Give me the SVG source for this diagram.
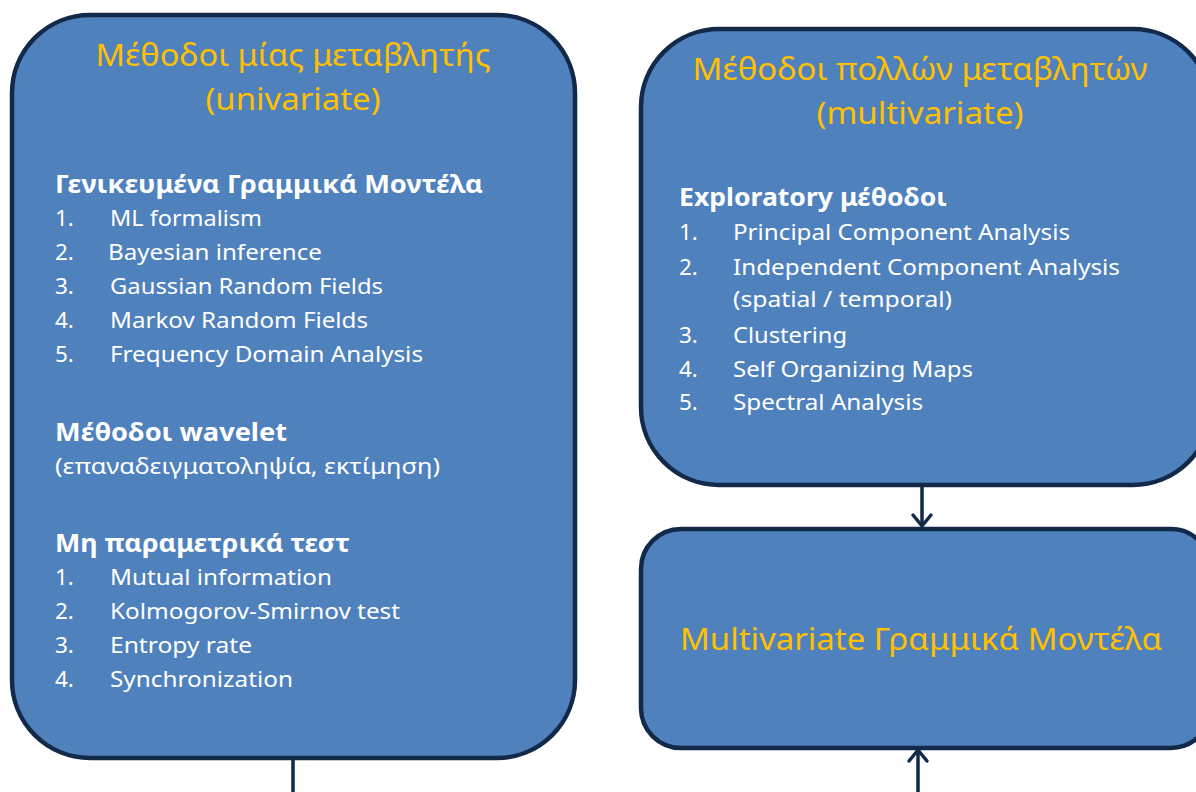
<svg xmlns="http://www.w3.org/2000/svg" width="1196" height="792" viewBox="0 0 1196 792">
<defs>
<style>
.box{fill:#4f81bd;stroke:#13294a;stroke-width:4.5}
.t{font-family:"Noto Sans","Open Sans","DejaVu Sans",sans-serif}
.title{fill:#ffc000;font-size:31px;text-anchor:middle}
.h{fill:#ffffff;font-size:24.5px;font-weight:bold}
.i{fill:#ffffff;font-size:22.5px}
.conn{stroke:#13294a;stroke-width:3.5;fill:none}
</style>
<marker id="arr" markerUnits="userSpaceOnUse" markerWidth="30" markerHeight="30" viewBox="-15 -15 30 30" refX="0" refY="0" orient="auto">
<path d="M-11,-9 L0,0 L-11,9" fill="none" stroke="#13294a" stroke-width="3.5" stroke-linecap="round" stroke-linejoin="round"/>
</marker>
</defs>
<rect width="1196" height="792" fill="#ffffff"/>

<g id="connectors">
<line class="conn" x1="293" y1="758" x2="293" y2="792"/>
<line class="conn" x1="922" y1="485" x2="922" y2="526" marker-end="url(#arr)"/>
<line class="conn" x1="918" y1="792" x2="918" y2="750" marker-end="url(#arr)"/>
</g>

<g id="univariate">
<rect class="box" x="12" y="15" width="563" height="743" rx="78" ry="78"/>
<g class="t">
<text class="title" x="293" y="66" textLength="395" lengthAdjust="spacingAndGlyphs">Μέθοδοι μίας μεταβλητής</text>
<text class="title" x="293" y="110" textLength="175" lengthAdjust="spacingAndGlyphs">(univariate)</text>
<text class="h" x="55" y="193" textLength="428" lengthAdjust="spacingAndGlyphs">Γενικευμένα Γραμμικά  Μοντέλα</text>
<text class="i" x="55" y="226">1.</text><text class="i" x="110" y="226" textLength="152" lengthAdjust="spacingAndGlyphs">ML formalism</text>
<text class="i" x="55" y="260">2.</text><text class="i" x="108" y="260" textLength="214" lengthAdjust="spacingAndGlyphs">Bayesian inference</text>
<text class="i" x="55" y="294">3.</text><text class="i" x="110" y="294" textLength="273" lengthAdjust="spacingAndGlyphs">Gaussian Random Fields</text>
<text class="i" x="55" y="328">4.</text><text class="i" x="110" y="328" textLength="258" lengthAdjust="spacingAndGlyphs">Markov Random Fields</text>
<text class="i" x="55" y="362">5.</text><text class="i" x="110" y="362" textLength="313" lengthAdjust="spacingAndGlyphs">Frequency Domain Analysis</text>
<text class="h" x="55" y="441" textLength="232" lengthAdjust="spacingAndGlyphs">Μέθοδοι wavelet</text>
<text class="i" x="55" y="474" textLength="385" lengthAdjust="spacingAndGlyphs">(επαναδειγματοληψία, εκτίμηση)</text>
<text class="h" x="55" y="552" textLength="295" lengthAdjust="spacingAndGlyphs">Μη παραμετρικά  τεστ</text>
<text class="i" x="55" y="585">1.</text><text class="i" x="110" y="585" textLength="222" lengthAdjust="spacingAndGlyphs">Mutual information</text>
<text class="i" x="55" y="619">2.</text><text class="i" x="110" y="619" textLength="290" lengthAdjust="spacingAndGlyphs">Kolmogorov-Smirnov test</text>
<text class="i" x="55" y="653">3.</text><text class="i" x="110" y="653" textLength="142" lengthAdjust="spacingAndGlyphs">Entropy rate</text>
<text class="i" x="55" y="687">4.</text><text class="i" x="110" y="687" textLength="183" lengthAdjust="spacingAndGlyphs">Synchronization</text>
</g>
</g>

<g id="multivariate">
<rect class="box" x="641" y="29" width="570" height="456" rx="78" ry="78"/>
<g class="t">
<text class="title" x="920" y="80" textLength="455" lengthAdjust="spacingAndGlyphs">Μέθοδοι πολλών μεταβλητών</text>
<text class="title" x="920" y="124" textLength="207" lengthAdjust="spacingAndGlyphs">(multivariate)</text>
<text class="h" x="679" y="206" textLength="268" lengthAdjust="spacingAndGlyphs">Exploratory μέθοδοι</text>
<text class="i" x="679" y="240">1.</text><text class="i" x="733" y="240" textLength="337" lengthAdjust="spacingAndGlyphs">Principal Component Analysis</text>
<text class="i" x="679" y="275">2.</text><text class="i" x="733" y="275" textLength="387" lengthAdjust="spacingAndGlyphs">Independent Component Analysis</text>
<text class="i" x="733" y="307" textLength="219" lengthAdjust="spacingAndGlyphs">(spatial / temporal)</text>
<text class="i" x="679" y="343">3.</text><text class="i" x="733" y="343" textLength="114" lengthAdjust="spacingAndGlyphs">Clustering</text>
<text class="i" x="679" y="377">4.</text><text class="i" x="733" y="377" textLength="240" lengthAdjust="spacingAndGlyphs">Self Organizing Maps</text>
<text class="i" x="679" y="410">5.</text><text class="i" x="733" y="410" textLength="190" lengthAdjust="spacingAndGlyphs">Spectral Analysis</text>
</g>
</g>

<g id="linear-models">
<rect class="box" x="641" y="529" width="570" height="219" rx="40" ry="40"/>
<text class="t title" x="921" y="650" textLength="482" lengthAdjust="spacingAndGlyphs">Multivariate Γραμμικά Μοντέλα</text>
</g>
</svg>
